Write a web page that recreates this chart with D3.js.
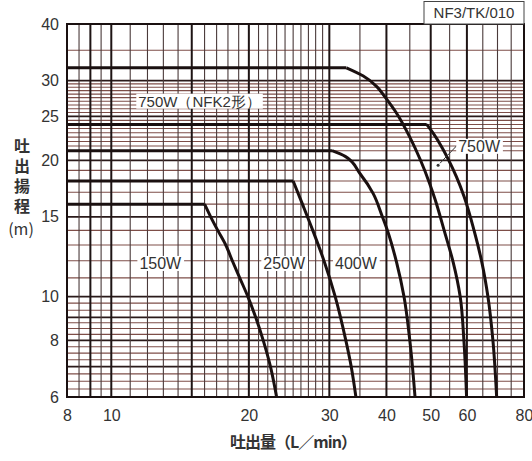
<!DOCTYPE html>
<html>
<head>
<meta charset="utf-8">
<script src="https://cdn.jsdelivr.net/npm/d3@7"></script>
<style>
  body { margin: 0; background: #fff; }
  svg { display: block; }
  .num { font-family: "Liberation Sans", Arial, sans-serif; fill: #333; }
  .jp { font-family: "Noto Sans CJK JP", sans-serif; fill: #333; }
</style>
</head>
<body>
<script>
const w = 532
const h = 461
const plotL = 67, plotR = 524, plotT = 24, plotB = 397

// tick labels
const xTicks = [8, 10, 20, 30, 40, 50, 60, 80]
const yTicks = [6, 8, 10, 15, 20, 25, 30, 40]

// grid lines
const xGrid = [8.5, 9, 9.5, 10, 11, 12, 13, 14, 15, 16, 17, 18, 19, 20, 21, 22, 23, 24, 25,
  26, 27, 28, 29, 30, 35, 40, 45, 50, 55, 60, 65, 70, 75]
const xMajor = [9, 10, 15, 20, 30, 40, 50, 60]
const yGrid = [6.25, 6.5, 6.75, 7, 7.25, 7.5, 7.75, 8, 8.25, 8.5, 8.75, 9, 9.33, 9.67, 10,
  11, 12, 13, 14, 15, 16, 17, 18, 19, 20, 21, 21.5, 22, 22.5, 23, 23.5, 24, 24.5, 25,
  25.5, 26, 26.5, 27, 27.5, 28, 28.5, 29, 29.5, 30, 35]
const yMajor = [7, 8, 9, 10, 15, 20, 25, 30]

// performance curves [flow L/min, head m]; first two points = shut-off plateau
const w150 = [[8, 16], [16, 16], [16.5, 15], [17.1, 14], [17.8, 13], [18.4, 12], [19.1, 11],
  [19.9, 10], [20.7, 9], [21.5, 8], [22.3, 7], [23.0, 6]]
const w250 = [[8, 18], [25, 18], [26.2, 16], [27.6, 14], [29.2, 12], [30.9, 10],
  [32.6, 8], [33.5, 7], [34.3, 6]]
const w400 = [[8, 21], [30.4, 21], [32.5, 20.4], [35.0, 18.7], [37.4, 16.9], [39.2, 15],
  [40.2, 14], [42.1, 11.9], [43.7, 10], [45.0, 8], [46.2, 6]]
const w750nfk = [[8, 32], [32.7, 32], [35.6, 30.7], [38.1, 29.1], [39.7, 27.6], [42.1, 25.4],
  [45.0, 22.5], [47.5, 20], [49.7, 17.8], [51.1, 16.4], [53.5, 14], [56.0, 11.9],
  [58.0, 10], [59.1, 8], [59.9, 6]]
const w750 = [[8, 24], [49.0, 24], [50.7, 22.9], [53.0, 21.3], [54.5, 20.2], [56.9, 18.4],
  [59.2, 16.6], [62.2, 14], [64.7, 11.9], [66.7, 10], [68.4, 8], [69.7, 6]]

const curves = [w150, w250, w400, w750nfk, w750]

// labels [text, flow, head, size]
const labels = [
  ['150W', 12.8, 11.85, 16],
  ['250W', 23.9, 11.85, 16],
  ['400W', 34.3, 11.85, 16],
  ['750W（NFK2形）', 15.6, 27, 15],
  ['750W', 63.8, 21.5, 16]
]

const xScale = d3.scaleLog().domain([8, 80]).range([plotL, plotR])
const yScale = d3.scaleLog().domain([6, 40]).range([plotB, plotT])

const svg = d3.select('body').append('svg')
  .attr('width', w)
  .attr('height', h)

// horizontal grid
svg.append('g').selectAll('line')
  .data(yGrid)
  .join('line')
  .attr('x1', plotL).attr('x2', plotR)
  .attr('y1', d => yScale(d)).attr('y2', d => yScale(d))
  .attr('stroke', d => yMajor.includes(d) ? '#2a1a1a' : '#7e4e48')
  .attr('stroke-width', d => yMajor.includes(d) ? 1.8 : 1.1)

// vertical grid
svg.append('g').selectAll('line')
  .data(xGrid)
  .join('line')
  .attr('x1', d => xScale(d)).attr('x2', d => xScale(d))
  .attr('y1', plotT).attr('y2', plotB)
  .attr('stroke', d => xMajor.includes(d) ? '#1e1414' : '#4a3a3a')
  .attr('stroke-width', d => xMajor.includes(d) ? 2 : 1.1)

// frame
svg.append('rect')
  .attr('x', plotL).attr('y', plotT)
  .attr('width', plotR - plotL).attr('height', plotB - plotT)
  .attr('fill', 'none')
  .attr('stroke', '#1a1010')
  .attr('stroke-width', 2)

// flat part straight, falling part as x(y) monotone spline
const flatFun = d3.line()
  .x(d => xScale(d[0]))
  .y(d => yScale(d[1]))

const fallFun = d3.line()
  .x(d => xScale(d[0]))
  .y(d => yScale(d[1]))
  .curve(d3.curveMonotoneY)

const cg = svg.append('g').selectAll('g')
  .data(curves)
  .join('g')

cg.append('path')
  .attr('d', d => flatFun(d.slice(0, 2)))
cg.append('path')
  .attr('d', d => fallFun(d.slice(1)))
cg.selectAll('path')
  .attr('fill', 'none')
  .attr('stroke', '#1a1010')
  .attr('stroke-width', 3)
  .attr('stroke-linejoin', 'round')

// leader for the right 750W label
svg.append('line')
  .attr('x1', xScale(57.4)).attr('y1', yScale(21.7))
  .attr('x2', xScale(52.4)).attr('y2', yScale(19.7))
  .attr('stroke', '#333').attr('stroke-width', 1)
svg.append('circle')
  .attr('cx', xScale(51.9)).attr('cy', yScale(19.5))
  .attr('r', 1.5).attr('fill', '#333')

// curve labels with white backing
const lab = svg.append('g').selectAll('g')
  .data(labels)
  .join('g')
  .attr('transform', d => `translate(${xScale(d[1])},${yScale(d[2])})`)

lab.append('text')
  .attr('class', 'num')
  .attr('text-anchor', 'middle')
  .attr('dy', '0.36em')
  .style('font-size', d => d[3] + 'px')
  .text(d => d[0])

lab.each(function () {
  const g = d3.select(this)
  const b = g.select('text').node().getBBox()
  g.insert('rect', 'text')
    .attr('x', b.x - 2).attr('y', b.y + 1)
    .attr('width', b.width + 4).attr('height', b.height - 2)
    .attr('fill', '#fff')
})

// axes (labels only)
const yAxis = svg.append('g')
  .attr('transform', `translate(${plotL},0)`)
  .call(d3.axisLeft(yScale).tickValues(yTicks).tickSize(0).tickPadding(8).tickFormat(d3.format('d')))
yAxis.select('.domain').remove()
yAxis.selectAll('text').attr('class', 'num').style('font-size', '16px')

const xAxis = svg.append('g')
  .attr('transform', `translate(0,${plotB})`)
  .call(d3.axisBottom(xScale).tickValues(xTicks).tickSize(0).tickPadding(13).tickFormat(d3.format('d')))
xAxis.select('.domain').remove()
xAxis.selectAll('text').attr('class', 'num').style('font-size', '16px')

// axis titles
svg.append('text')
  .attr('class', 'jp')
  .attr('x', 22).attr('y', 138)
  .style('writing-mode', 'vertical-rl')
  .style('font-size', '16px')
  .style('font-weight', 'bold')
  .style('letter-spacing', '4px')
  .text('吐出揚程')
svg.append('text')
  .attr('class', 'jp')
  .attr('x', 21).attr('y', 235)
  .attr('text-anchor', 'middle')
  .style('font-size', '16px')
  .text('(m)')

svg.append('text')
  .attr('class', 'jp')
  .attr('x', 293).attr('y', 448)
  .attr('text-anchor', 'middle')
  .style('font-size', '16px')
  .style('font-weight', 'bold')
  .style('letter-spacing', '-1px')
  .text('吐出量（L／min）')

// code box
svg.append('rect')
  .attr('x', 424).attr('y', 1.5)
  .attr('width', plotR - 424).attr('height', plotT - 1.5)
  .attr('fill', '#fff').attr('stroke', '#444').attr('stroke-width', 1)
svg.append('text')
  .attr('class', 'num')
  .attr('x', (424 + plotR) / 2).attr('y', 18)
  .attr('text-anchor', 'middle')
  .style('font-size', '15px')
  .text('NF3/TK/010')
</script>
</body>
</html>
